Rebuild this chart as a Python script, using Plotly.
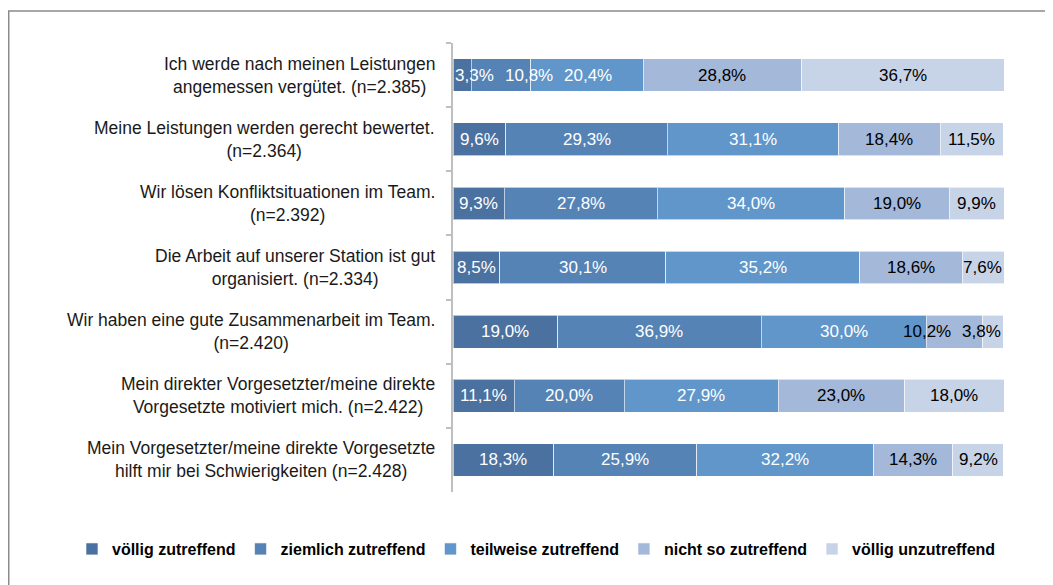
import plotly.graph_objects as go

categories = [
    "Ich werde nach meinen Leistungen<br>angemessen vergütet. (n=2.385)",
    "Meine Leistungen werden gerecht bewertet.<br>(n=2.364)",
    "Wir lösen Konfliktsituationen im Team.<br>(n=2.392)",
    "Die Arbeit auf unserer Station ist gut<br>organisiert. (n=2.334)",
    "Wir haben eine gute Zusammenarbeit im Team.<br>(n=2.420)",
    "Mein direkter Vorgesetzter/meine direkte<br>Vorgesetzte motiviert mich. (n=2.422)",
    "Mein Vorgesetzter/meine direkte Vorgesetzte<br>hilft mir bei Schwierigkeiten (n=2.428)",
]
series_names = ["völlig zutreffend", "ziemlich zutreffend", "teilweise zutreffend",
                "nicht so zutreffend", "völlig unzutreffend"]
voellig_zutreffend = [3.3, 9.6, 9.3, 8.5, 19.0, 11.1, 18.3]
ziemlich_zutreffend = [10.8, 29.3, 27.8, 30.1, 36.9, 20.0, 25.9]
teilweise_zutreffend = [20.4, 31.1, 34.0, 35.2, 30.0, 27.9, 32.2]
nicht_so_zutreffend = [28.8, 18.4, 19.0, 18.6, 10.2, 23.0, 14.3]
voellig_unzutreffend = [36.7, 11.5, 9.9, 7.6, 3.8, 18.0, 9.2]
series_values = [voellig_zutreffend, ziemlich_zutreffend, teilweise_zutreffend,
                 nicht_so_zutreffend, voellig_unzutreffend]
colors = ["#4B71A0", "#5683B6", "#6096CA", "#A4B8D9", "#C7D3E7"]
text_colors = ["white", "white", "white", "black", "black"]

FONT = "Liberation Sans, Arial, sans-serif"
LABEL_SIZE = 17
PLOT_W = 551   # plot area width in px
X_MAX = 100

fig = go.Figure()
for name, vals, col in zip(series_names, series_values, colors):
    fig.add_trace(go.Bar(
        y=categories, x=vals, name=name, orientation="h",
        marker=dict(color=col, line=dict(color="rgba(255,255,255,0.6)", width=1)),
        hoverinfo="x+name",
    ))

# value labels: centred in each segment, nudged apart where they would collide
CHAR_W = {",": 0.278, "%": 0.889}
def text_units(s):
    em = sum(CHAR_W.get(ch, 0.556) for ch in s)
    return em * LABEL_SIZE / PLOT_W * X_MAX

pad, gap = 0.4, 2.0
for r, cat in enumerate(categories):
    vals = [sv[r] for sv in series_values]
    texts = [f"{v:.1f}%".replace(".", ",") for v in vals]
    widths = [text_units(t) for t in texts]
    centers, start = [], 0.0
    for v in vals:
        centers.append(start + v / 2)
        start += v
    total = start
    n = len(vals)
    centers[0] = max(centers[0], widths[0] / 2 + pad)
    for i in range(1, n):
        centers[i] = max(centers[i], centers[i - 1] + (widths[i - 1] + widths[i]) / 2 + gap)
    centers[-1] = min(centers[-1], total - widths[-1] / 2 - pad)
    for i in range(n - 2, -1, -1):
        centers[i] = min(centers[i], centers[i + 1] - (widths[i] + widths[i + 1]) / 2 - gap)
    for i in range(n):
        fig.add_annotation(x=centers[i], y=cat, xref="x", yref="y", text=texts[i],
                           showarrow=False, xanchor="center", yanchor="middle",
                           font=dict(size=LABEL_SIZE, color=text_colors[i], family=FONT))

for c in categories:
    fig.add_annotation(x=-0.029, xref="paper", y=c, yref="y", text=c,
                       xanchor="right", yanchor="middle", align="center",
                       showarrow=False, font=dict(size=17.5, color="#1a1a1a", family=FONT))

fig.add_shape(type="rect", xref="paper", yref="paper",
              x0=-0.8063, x1=1.3, y0=-0.5, y1=1.0713,
              line=dict(color="#8A8A8A", width=1.5), layer="below")

fig.update_layout(
    width=1045, height=577,
    margin=dict(l=445, r=49, t=35, b=93),
    barmode="stack", bargap=0.49,
    plot_bgcolor="white", paper_bgcolor="white",
    font=dict(family=FONT, size=16, color="black"),
    xaxis=dict(range=[0, X_MAX], visible=False, fixedrange=True),
    yaxis=dict(autorange="reversed", showticklabels=False, showline=True,
               linecolor="#BFBFBF", linewidth=1.5, ticks="outside", tickson="boundaries",
               ticklen=5, tickcolor="#BFBFBF", tickwidth=1.5, showgrid=False),
    legend=dict(orientation="h", x=-0.6915, xanchor="left",
                y=-0.127, yanchor="middle",
                font=dict(size=16, family=FONT, color="black", weight="bold"),
                itemwidth=30, traceorder="normal"),
    showlegend=True,
)

fig.write_html("out.html")
